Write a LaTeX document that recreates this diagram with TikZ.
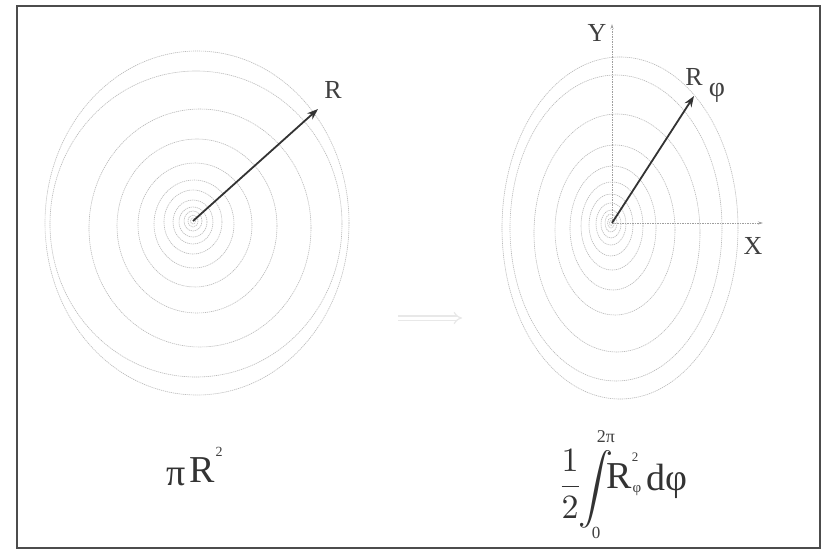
\documentclass[tikz,border=0pt]{standalone}
\usepackage{amsmath}
\usepackage{fontspec}
\setmainfont{Liberation Serif}
\usepackage{tikz}
\usetikzlibrary{arrows.meta}

\begin{document}
\begin{tikzpicture}[x=1pt, y=-1pt, >={Stealth[length=11pt, width=8pt]}]
			\tikzset{
				ring/.style={gray!55, line width=0.6pt, dash pattern=on 1.2pt off 0.8pt},
				axis/.style={gray!75, line width=0.8pt, dash pattern=on 1.5pt off 1pt, -{Stealth[length=5pt, width=3pt]}},
				radius/.style={->, black!80, line width=1.8pt},
				lbl/.style={inner sep=0pt, font=\fontsize{26}{30}\selectfont, text=black!75},
				big/.style={inner sep=0pt, font=\fontsize{38}{40}\selectfont, text=black!80},
				tiny/.style={inner sep=0pt, text=black!75},
				frame/.style={black!70, line width=1.6pt}
			}
			\useasboundingbox (0,0) rectangle (827,551);
			\fill[white] (0,0) rectangle (827,551);

			% Frame
			\draw[frame] (17,6) rectangle (820,548);

			% Left rings
			\foreach \cx/\cy/\rx/\ry in {197/223/152/172, 196/224/146/153, 200/228/111/119, 197/226/80/87,
				195/225/57/62, 194/224/40/44, 193/222/29/32, 193/222/20/22, 193/222/14/15,
				193/221/9/10, 193/221/5/6, 193/221/2.5/3}
				\draw[ring] (\cx,\cy) ellipse [x radius=\rx, y radius=\ry];

			% Right rings
			\foreach \cx/\cy/\rx/\ry in {620/228/118/171, 616/228/106/153, 617/233/83/119, 615/230/60/85,
				613/228/43/62, 612/226/31/44, 611/225/22/31, 611/224/15/21, 611/224/10/14,
				611/223/6/9, 611/223/3.5/5, 611/223/1.5/2.5}
				\draw[ring] (\cx,\cy) ellipse [x radius=\rx, y radius=\ry];

			% Left radius
			\coordinate (o1) at (193,221);
			\coordinate (p1) at (318,109);
			\draw[radius] (o1) -- (p1);
			\node[lbl] (rlab) at (333,90) {R};

			% Axes and radius on the right
			\coordinate (o2) at (612,223);
			\coordinate (ytip) at (612,24);
			\coordinate (xtip) at (763,223);
			\draw[axis] (o2) -- (ytip);
			\draw[axis] (o2) -- (xtip);
			\node[lbl] (ylab) at (597,33) {Y};
			\node[lbl] (xlab) at (753,246) {X};
			\coordinate (p2) at (694,96);
			\draw[radius] (o2) -- (p2);
			\node[lbl] (rphi) at (694,77) {R};
			\node[lbl, font=\fontsize{28}{30}\selectfont] (phi) at (717,93) {φ};

			% Faint arrow in between
			\coordinate (m1) at (398,318);
			\coordinate (m2) at (462,318);
			\draw[gray!18, line width=1.2pt, double distance=3pt, -{Implies}] (m1) -- (m2);

			% Area of the circle
			\node[big] (pi1) at (176,477) {π};
			\node[big] (r1) at (202,470) {R};
			\node[tiny, font=\fontsize{14}{14}\selectfont] (sq1) at (219,452) {2};

			% Area as an integral
			\node[tiny, text=black!80] (half) at (570,484) {\scalebox{3.4}{$\dfrac{1}{2}$}};
			\node[tiny, text=black!80] (intg) at (596,489) {\scalebox{3.5}{$\displaystyle\int$}};
			\node[tiny, font=\fontsize{18}{18}\selectfont] (up) at (606,437) {2π};
			\node[tiny, font=\fontsize{17}{17}\selectfont] (low) at (596,533) {0};
			\node[big] (r2) at (619,476) {R};
			\node[tiny, font=\fontsize{13}{13}\selectfont] (sq2) at (635,457) {2};
			\node[tiny, font=\fontsize{15}{15}\selectfont] (sub2) at (637,491) {φ};
			\node[big] (dphi) at (667,481) {dφ};
		\end{tikzpicture}
\end{document}
